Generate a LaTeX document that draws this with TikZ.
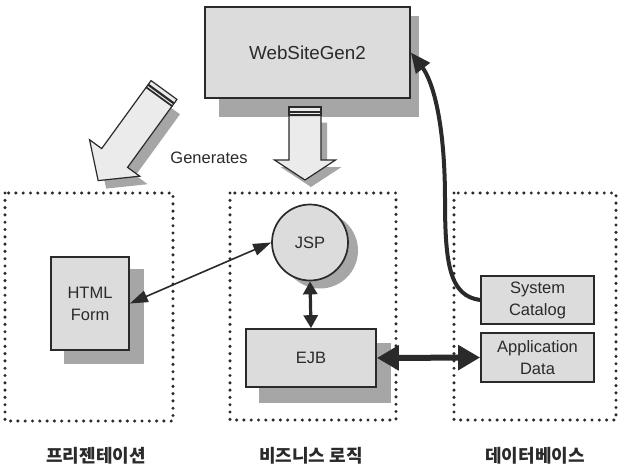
\documentclass[tikz,border=0pt]{standalone}
\usepackage{fontspec}
\setmainfont{Liberation Sans}
\newfontfamily\kr{Noto Sans CJK KR}
\usetikzlibrary{arrows.meta,backgrounds}
\definecolor{boxfill}{HTML}{DCDCDC}
\definecolor{shadowc}{HTML}{A6A6A6}
\definecolor{ink}{HTML}{2A2A2A}
\definecolor{arrowfill}{HTML}{EBEBEB}
\newcommand\BlkBody[5]{\path[#5] (8.5,-#2) -- ({#1-#4},-#2) -- ({#1-#4},-#3) -- (#1,0) -- ({#1-#4},#3) -- ({#1-#4},#2) -- (8.5,#2) -- cycle;}
\newcommand\BlkStripes[2]{\path[#2] (0,-#1) rectangle (4.5,#1) (5.5,-#1) rectangle (8,#1);}
\begin{document}
\begin{tikzpicture}[x=1pt,y=-1pt,
  every node/.style={font=\fontsize{16.5}{22}\selectfont, text=ink},
  box/.style={draw=ink, line width=1.7pt, fill=boxfill, inner sep=0pt, align=center},
  zone/.style={draw=ink, line width=3.4pt, line cap=round, dash pattern=on 0pt off 7.3pt},
  shade/.style={fill=shadowc},
  blk/.style={draw=ink, line width=1.2pt, fill=arrowfill, line join=miter},
  klabel/.style={font=\kr\bfseries\fontsize{18}{20}\selectfont, text=ink},
  link/.style={draw=ink}
]
\useasboundingbox (0,0) rectangle (618,467);

% nodes
\node[box, minimum width=205pt, minimum height=91pt, font=\fontsize{18.8}{22}\selectfont] (ws) at (307.5,52.5) {WebSiteGen2};
\node[box, minimum width=78pt, minimum height=93pt] (html) at (90,303.5) {HTML\\Form};
\node[box, circle, minimum size=76pt] (jsp) at (310,242.5) {JSP};
\node[box, minimum width=130pt, minimum height=58pt] (ejb) at (311,358) {EJB};
\node[box, minimum width=113pt, minimum height=48pt] (sc) at (537.5,300) {System\\Catalog};
\node[box, minimum width=113pt, minimum height=49pt] (ad) at (537.5,357.5) {Application\\Data};

\node (gen) at (209,158) {Generates};
\node[klabel] (l1) at (96,456) {프리젠테이션};
\node[klabel] (l2) at (311,456) {비즈니스 로직};
\node[klabel] (l3) at (535,456) {데이터베이스};

\begin{scope}[on background layer]
  \fill[white] (0,0) rectangle (618,467);
  \draw[zone] (5,193) rectangle (173,421);
  \draw[zone] (230,193) rectangle (396,420);
  \draw[zone] (454,193) rectangle (616,420);
  \fill[shade] ([shift={(15,10)}]ws.north west) rectangle ([shift={(8,18)}]ws.south east);
  \fill[shade] ([shift={(14,13)}]html.north west) rectangle ([shift={(14,13)}]html.south east);
  \fill[shade] ([shift={(10,8)}]jsp.center) circle[radius=38pt];
  \fill[shade] ([shift={(14,15)}]ejb.north west) rectangle ([shift={(14,15)}]ejb.south east);
\end{scope}

% block arrow below WebSiteGen2
\begin{scope}[shift={(311,114)}, rotate=-90]
  \BlkBody{73}{16}{30.5}{20}{fill=shadowc}
\end{scope}
\begin{scope}[shift={(305,107)}, rotate=-90]
  \BlkBody{73}{16}{30.5}{20}{blk}
  \BlkStripes{16}{blk}
\end{scope}

% diagonal block arrow
\begin{scope}[shift={(172,98)}, rotate=-126]
  \BlkBody{112}{16}{31}{28}{fill=shadowc}
\end{scope}
\begin{scope}[shift={(164,90)}, rotate=-126]
  \BlkBody{112}{16}{31}{28}{blk}
  \BlkStripes{16}{blk}
\end{scope}

% connectors
\draw[link, line width=1.6pt, {Triangle[width=12pt,length=18pt]}-{Triangle[width=12pt,length=18pt]}] (html.east) -- (jsp.west);
\draw[link, line width=3.2pt, {Triangle[width=14pt,length=13pt]}-{Triangle[width=14pt,length=13pt]}] (jsp.south) -- (ejb.north);
\draw[link, line width=6pt, {Triangle[width=24pt,length=22pt]}-{Triangle[width=24pt,length=22pt]}] (ejb.east) -- (ad.west);
\coordinate (via) at (445,200);
\draw[link, line width=4pt, -{Triangle[width=17pt,length=20pt]}] (sc.west) .. controls (450,296) and (445,265) .. (via) .. controls (445,120) and (432,80) .. (ws.east);
\end{tikzpicture}
\end{document}
